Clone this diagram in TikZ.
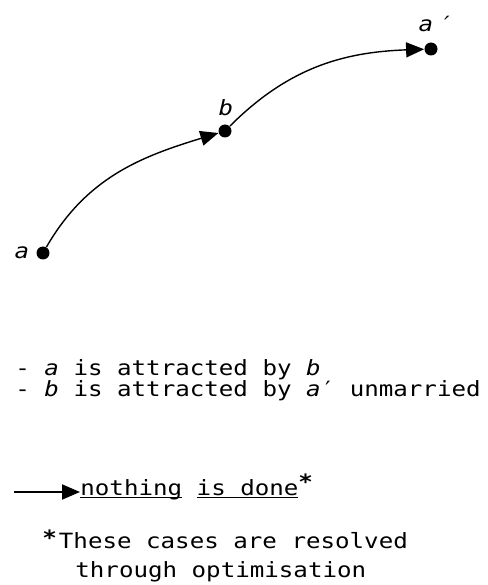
\documentclass[tikz,border=0pt]{standalone}
\usepackage{fontspec}
\setmonofont[FakeStretch=1.15]{DejaVu Sans Mono}
\usetikzlibrary{arrows.meta, positioning}
\newcommand\ul[1]{\underline{\smash{#1}}}

\begin{document}
\begin{tikzpicture}[
    x=0.5pt, y=0.5pt,
    >={Triangle[length=9pt, width=7.5pt]},
    dot/.style={circle, fill, inner sep=0pt, minimum size=6.5pt},
    lbl/.style={inner sep=0pt, font=\fontsize{10.5}{12}\ttfamily\itshape},
    txt/.style={anchor=base west, inner sep=0pt,
                font=\fontsize{10.5}{12}\ttfamily},
    every edge/.style={draw, ->, line width=0.7pt}
  ]
  \useasboundingbox (0,0) rectangle (488,585);
  % points and their labels
  \node[dot] (a) at (43,332) {};
  \node[dot] (b) at (225,454) {};
  \node[dot] (ap) at (431,536) {};
  \node[lbl] (la) at (22,332) {a};
  \node[lbl] (lb) at (226,477) {b};
  \node[lbl] (lap) at (435,561) {a\,′};

  \draw (a) edge[out=60, in=197] (b);
  \draw (b) edge[out=45, in=182] (ap);

  % explanation
  \node[txt] (line1) at (15,209) {- \textit{a} is attracted by \textit{b}};
  \node[txt] (line2) at (15,188) {- \textit{b} is attracted by \textit{a}′ unmarried};

  \node[txt] (done) at (80,90)
    {\ul{nothing} \ul{is done}\raisebox{.5ex}{\bfseries*}};
  \coordinate (start) at (14,93);
  \draw[->, line width=1pt] (start) -- (start -| done.west);

  \node[txt] (note1) at (42,36)
    {\raisebox{.3ex}{\bfseries*}\hspace{1pt}These cases are resolved};
  \node[txt] (note2) at (75,7) {through optimisation};
\end{tikzpicture}
\end{document}
